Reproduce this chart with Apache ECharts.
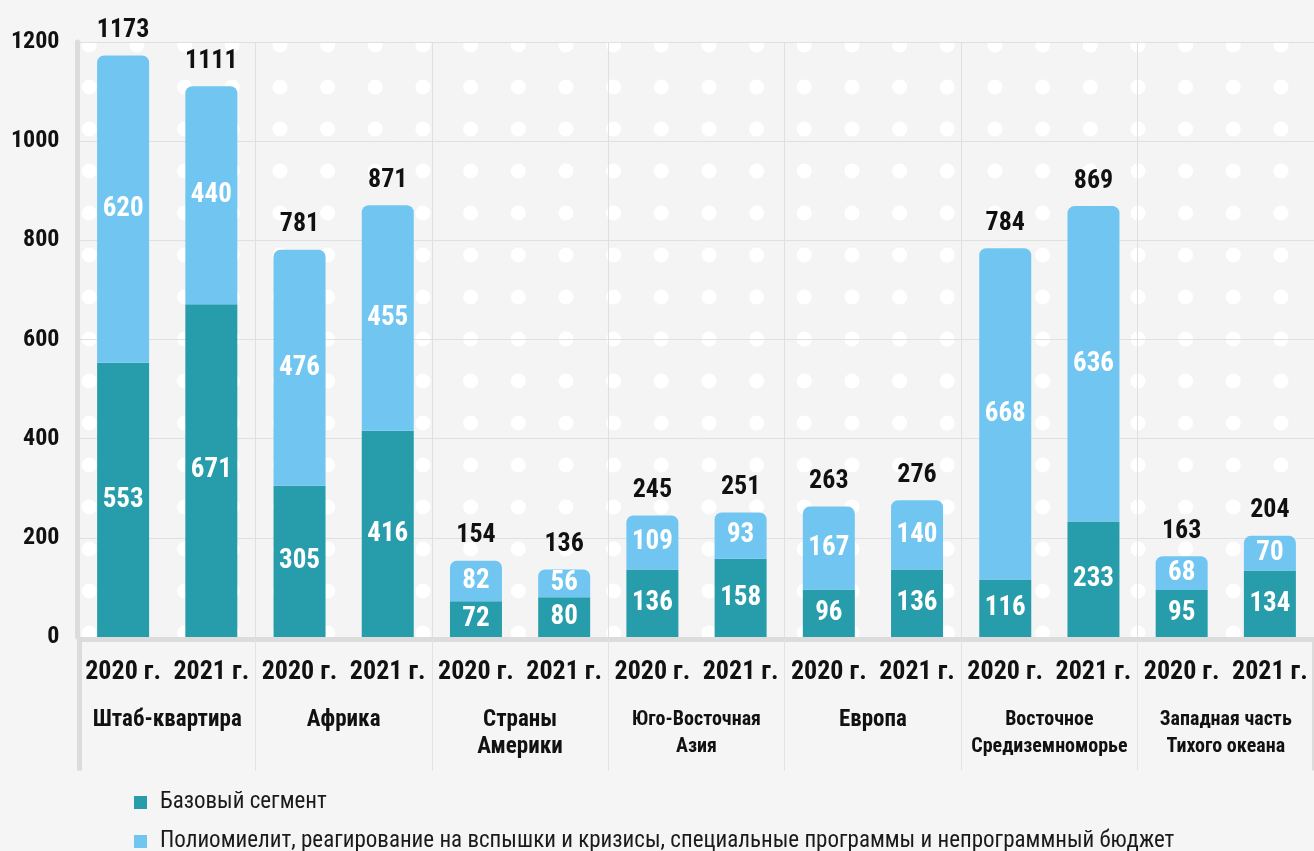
<!DOCTYPE html>
<html>
<head>
<meta charset="utf-8">
<script src="https://cdn.jsdelivr.net/npm/echarts@6/dist/echarts.min.js"></script>
<style>
html,body{margin:0;padding:0;background:#f5f5f5;}
#c{width:1314px;height:851px;}
</style>
</head>
<body>
<div id="c"></div>
<script>
// ---- data ----
var regions = ['Штаб-квартира', 'Африка', 'Страны\nАмерики', 'Юго-Восточная\nАзия', 'Европа', 'Восточное\nСредиземноморье', 'Западная часть\nТихого океана'];
var years = ['2020 г.', '2021 г.'];
var baseSegment = [553, 671, 305, 416, 72, 80, 136, 158, 96, 136, 116, 233, 95, 134];
var otherSegment = [620, 440, 476, 455, 82, 56, 109, 93, 167, 140, 668, 636, 68, 70];
var totals = [1173, 1111, 781, 871, 154, 136, 245, 251, 263, 276, 784, 869, 163, 204];
var yTicks = [0, 200, 400, 600, 800, 1000, 1200];
var seriesNames = ['Базовый сегмент', 'Полиомиелит, реагирование на вспышки и кризисы, специальные программы и непрограммный бюджет'];

// ---- build ----
var yearCats = [];
regions.forEach(function (r, i) {
  years.forEach(function (y) { yearCats.push(i + '|' + y); });
});

var FONT = "'Liberation Sans Narrow', 'Roboto Condensed', Roboto, sans-serif";
var DARK = '#279dab';
var LIGHT = '#70c6f1';

// decorative dot background tile
function dotPattern() {
  var w = 143, h = 126;
  var cv = document.createElement('canvas');
  cv.width = w; cv.height = h;
  var ctx = cv.getContext('2d');
  ctx.fillStyle = '#f4f4f4';
  ctx.fillRect(0, 0, w, h);
  ctx.fillStyle = '#ffffff';
  for (var i = 0; i < 3; i++) {
    for (var j = 0; j < 3; j++) {
      var cx = 41.6 + 47.67 * i, cy = 3 + 42 * j;
      [-w, 0, w].forEach(function (dx) {
        [-h, 0, h].forEach(function (dy) {
          ctx.beginPath();
          ctx.arc(cx + dx, cy + dy, 7.5, 0, Math.PI * 2);
          ctx.fill();
        });
      });
    }
  }
  return cv;
}

var chart = echarts.init(document.getElementById('c'), null, {renderer: 'canvas'});
var option = {
  backgroundColor: '#f5f5f5',
  animation: false,
  textStyle: {fontFamily: FONT},
  grid: {
    show: true,
    left: 79, top: 42, width: 1240, height: 595,
    borderWidth: 0,
    backgroundColor: {image: dotPattern(), repeat: 'repeat'}
  },
  legend: {
    data: seriesNames,
    orient: 'vertical',
    left: 134, top: 791,
    height: 120,
    padding: 0,
    itemWidth: 13, itemHeight: 13,
    itemGap: 16,
    icon: 'rect',
    selectedMode: false,
    textStyle: {fontFamily: FONT, fontSize: 23, lineHeight: 22, color: '#1a1a1a', padding: [0, 0, 0, 8]}
  },
  xAxis: [
    {
      type: 'category',
      data: yearCats,
      gridIndex: 0,
      axisLine: {show: false},
      axisTick: {show: false},
      splitLine: {show: false},
      axisLabel: {
        interval: 0, margin: 22,
        fontFamily: FONT, fontSize: 26, fontWeight: 'bold', color: '#111',
        formatter: function (v) { return v.split('|')[1]; }
      }
    },
    {
      type: 'category',
      data: regions,
      gridIndex: 0,
      position: 'bottom',
      offset: 2.5,
      axisLine: {show: true, lineStyle: {color: '#dcdcdc', width: 5}},
      axisTick: {show: true, length: 131, interval: 0, lineStyle: {color: '#e2e2e2', width: 1}},
      splitLine: {show: true, interval: 0, lineStyle: {color: '#e0e0e0', width: 1}},
      axisLabel: {
        interval: 0, margin: 67, verticalAlign: 'top',
        formatter: function (v) {
          var key = v.replace('\n', '').length > 15 ? 's' : 'b';
          return v.split('\n').map(function (l) { return '{' + key + '|' + l + '}'; }).join('\n');
        },
        rich: {
          b: {fontFamily: FONT, fontSize: 23, fontWeight: 'bold', color: '#111', lineHeight: 27},
          s: {fontFamily: FONT, fontSize: 20, fontWeight: 'bold', color: '#111', lineHeight: 27}
        }
      }
    },
    {
      type: 'category',
      data: [''],
      gridIndex: 0,
      position: 'bottom',
      offset: 2.5,
      axisLine: {show: false},
      axisLabel: {show: false},
      axisTick: {show: true, length: 131, lineStyle: {color: '#dcdcdc', width: 5}},
      splitLine: {show: false}
    }
  ],
  yAxis: {
    type: 'value',
    min: yTicks[0], max: yTicks[yTicks.length - 1], interval: yTicks[1] - yTicks[0],
    offset: 1.5,
    axisLine: {show: true, lineStyle: {color: '#dcdcdc', width: 5}},
    axisTick: {show: false},
    splitLine: {show: true, lineStyle: {color: '#e0e0e0', width: 1}},
    axisLabel: {
      margin: 18, fontFamily: FONT, fontSize: 24, fontWeight: 'bold', color: '#111',
      formatter: function (v) { return String(v); }
    }
  },
  series: [
    {
      name: seriesNames[0], type: 'bar', stack: 'a', xAxisIndex: 0,
      barWidth: 52,
      data: baseSegment,
      itemStyle: {color: DARK},
      label: {show: true, position: 'inside', color: '#fff', fontFamily: FONT, fontSize: 27, fontWeight: 'bold'}
    },
    {
      name: seriesNames[1], type: 'bar', stack: 'a', xAxisIndex: 0,
      barWidth: 52,
      data: otherSegment,
      itemStyle: {color: LIGHT, borderRadius: [7, 7, 0, 0]},
      label: {show: true, position: 'inside', color: '#fff', fontFamily: FONT, fontSize: 27, fontWeight: 'bold'}
    },
    {
      name: 'total', type: 'bar', xAxisIndex: 0,
      barWidth: 52, barGap: '-100%',
      data: totals,
      silent: true,
      itemStyle: {color: 'rgba(0,0,0,0)'},
      label: {show: true, position: 'top', distance: 12, color: '#111', fontFamily: FONT, fontSize: 26, fontWeight: 'bold'}
    }
  ]
};
chart.setOption(option);
</script>
</body>
</html>
